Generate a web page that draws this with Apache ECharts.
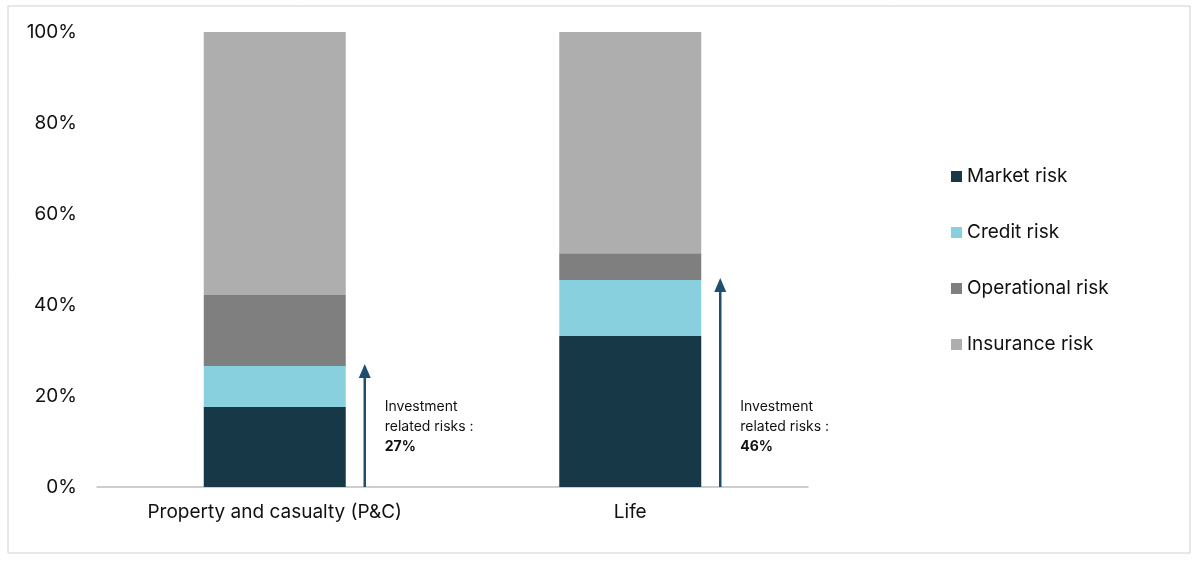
<!DOCTYPE html>
<html><head><meta charset="utf-8">
<script src="https://cdn.jsdelivr.net/npm/echarts@6/dist/echarts.min.js"></script>
<style>body{margin:0;background:#fff}#chart{width:1200px;height:563px}</style>
</head><body><div id="chart"></div>
<script>
var categories = ['Property and casualty (P&C)', 'Life'];
var marketRisk = [17.6, 33.2];
var creditRisk = [9.0, 12.3];
var operationalRisk = [15.6, 5.9];
var insuranceRisk = [57.8, 48.6];
var investmentTotals = [27, 46];

var chart = echarts.init(document.getElementById('chart'));
var font = 'Inter';

function arrowItem(params, api) {
    var idx = params.dataIndex;
    var base = api.coord([idx, 0]);
    var top = api.coord([idx, marketRisk[idx] + creditRisk[idx]]);
    var x = base[0] + 90;
    return {
        type: 'group',
        children: [
            { type: 'line', shape: { x1: x, y1: base[1], x2: x, y2: top[1] + 10 },
              style: { stroke: '#1f4e6e', lineWidth: 2.5 } },
            { type: 'polygon', shape: { points: [[x - 6, top[1] + 12], [x + 6, top[1] + 12], [x, top[1] - 2]] },
              style: { fill: '#1f4e6e' } },
            { type: 'text', x: x + 20, y: base[1] - 90,
              style: { text: '{n|Investment}\n{n|related risks :}\n{b|' + investmentTotals[idx] + '%}',
                       rich: { n: { fontSize: 14, fontFamily: font, fill: '#111', lineHeight: 20 },
                               b: { fontSize: 14, fontFamily: font, fontWeight: 'bold', fill: '#111', lineHeight: 20 } } } }
        ]
    };
}

var option = {
    animation: false,
    color: ['#163847', '#88d0de', '#7f7f7f', '#aeaeae'],
    graphic: [{ type: 'rect', shape: { x: 8, y: 6, width: 1182, height: 547 },
                style: { fill: 'none', stroke: '#d0d0d0', lineWidth: 1 } }],
    grid: { left: 97, right: 392, top: 32, bottom: 76 },
    legend: {
        orient: 'vertical', left: 946, top: 162, itemGap: 37,
        itemWidth: 11, itemHeight: 11, icon: 'rect',
        textStyle: { fontSize: 19, fontFamily: font, color: '#111' },
        data: ['Market risk', 'Credit risk', 'Operational risk', 'Insurance risk']
    },
    xAxis: {
        type: 'category', data: categories,
        axisTick: { show: false },
        axisLine: { lineStyle: { color: '#bfbfbf', width: 1.5 } },
        axisLabel: { fontSize: 19, fontFamily: font, color: '#111', margin: 16 }
    },
    yAxis: {
        type: 'value', min: 0, max: 100, interval: 20,
        splitLine: { show: false },
        axisLabel: { formatter: '{value}%', fontSize: 19, fontFamily: font, color: '#111', margin: 20 }
    },
    series: [
        { name: 'Market risk', type: 'bar', stack: 'a', barWidth: 142, data: marketRisk },
        { name: 'Credit risk', type: 'bar', stack: 'a', data: creditRisk },
        { name: 'Operational risk', type: 'bar', stack: 'a', data: operationalRisk },
        { name: 'Insurance risk', type: 'bar', stack: 'a', data: insuranceRisk },
        { type: 'custom', renderItem: arrowItem, data: [0, 1], z: 10 }
    ]
};
chart.setOption(option);
</script></body></html>
